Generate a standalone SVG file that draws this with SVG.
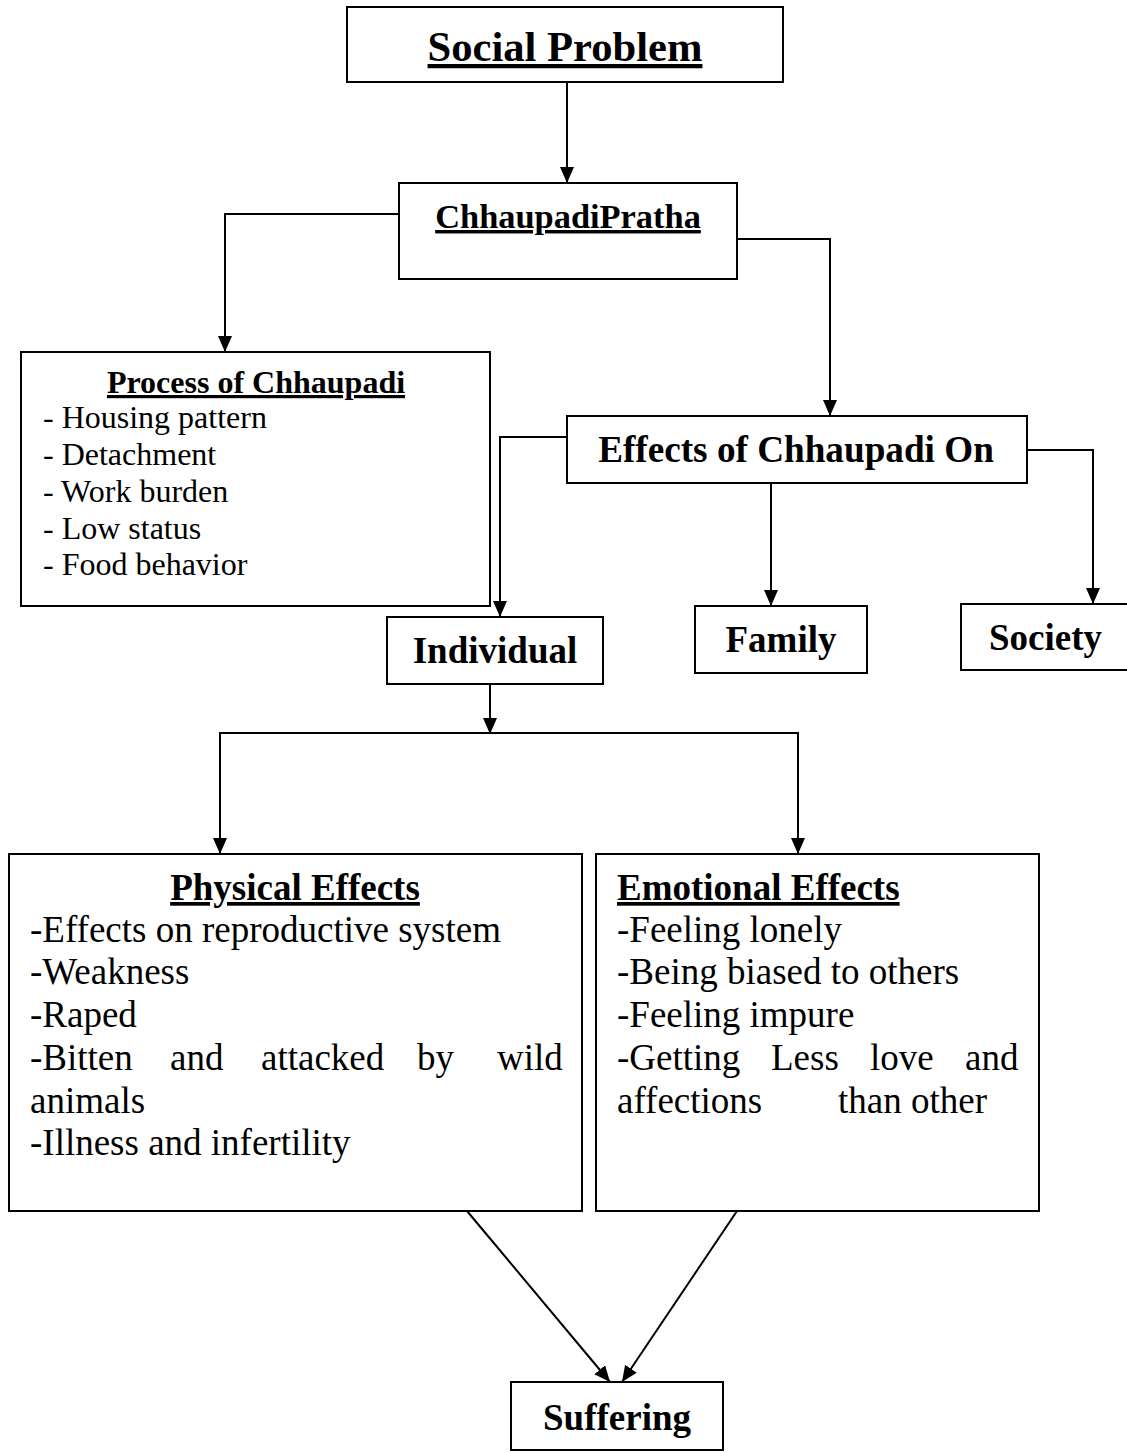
<svg xmlns="http://www.w3.org/2000/svg" width="1127" height="1453" viewBox="0 0 1127 1453">
<style>
  .box { fill: #ffffff; stroke: #000000; stroke-width: 2; }
  .ln { fill: none; stroke: #000000; stroke-width: 2; }
  .t { font-family: "Liberation Serif", "Times New Roman", serif; fill: #000000; }
  .b { font-weight: bold; }
  .u { text-decoration: underline; }
  .m { text-anchor: middle; }
</style>
<defs>
  <marker id="ah" markerUnits="userSpaceOnUse" markerWidth="18" markerHeight="16" refX="16" refY="7" orient="auto">
    <path d="M0,0 L16,7 L0,14 z" fill="#000000"/>
  </marker>
</defs>
<rect width="1127" height="1453" fill="#ffffff"/>

<g id="connectors">
  <path class="ln" d="M567,82 V183" marker-end="url(#ah)"/>
  <path class="ln" d="M399,214 H225 V352" marker-end="url(#ah)"/>
  <path class="ln" d="M737,239 H830 V416" marker-end="url(#ah)"/>
  <path class="ln" d="M567,437 H500 V617" marker-end="url(#ah)"/>
  <path class="ln" d="M771,483 V606" marker-end="url(#ah)"/>
  <path class="ln" d="M1027,450 H1093 V604" marker-end="url(#ah)"/>
  <path class="ln" d="M490,684 V734" marker-end="url(#ah)"/>
  <path class="ln" d="M220,840 V733 H798 V840"/>
  <path class="ln" d="M220,760 V854" marker-end="url(#ah)"/>
  <path class="ln" d="M798,760 V854" marker-end="url(#ah)"/>
  <path class="ln" d="M467,1211 L610,1382" marker-end="url(#ah)"/>
  <path class="ln" d="M737,1211 L622,1382" marker-end="url(#ah)"/>
</g>

<g id="social-problem">
  <rect class="box" x="347" y="7" width="436" height="75"/>
  <text class="t b u m" x="565" y="61" font-size="42.6">Social Problem</text>
</g>

<g id="chhaupadi-pratha">
  <rect class="box" x="399" y="183" width="338" height="96"/>
  <text class="t b u m" x="568" y="228" font-size="34.4">ChhaupadiPratha</text>
</g>

<g id="process">
  <rect class="box" x="21" y="352" width="469" height="254"/>
  <text class="t b u m" x="256" y="393" font-size="32">Process of Chhaupadi</text>
  <text class="t" x="43" y="428" font-size="32">- Housing pattern</text>
  <text class="t" x="43" y="465" font-size="32">- Detachment</text>
  <text class="t" x="43" y="502" font-size="32">- Work burden</text>
  <text class="t" x="43" y="539" font-size="32">- Low status</text>
  <text class="t" x="43" y="575" font-size="32">- Food behavior</text>
</g>

<g id="effects-on">
  <rect class="box" x="567" y="416" width="460" height="67"/>
  <text class="t b m" x="796" y="462" font-size="37.2">Effects of Chhaupadi On</text>
</g>

<g id="individual">
  <rect class="box" x="387" y="617" width="216" height="67"/>
  <text class="t b m" x="495" y="663" font-size="37">Individual</text>
</g>

<g id="family">
  <rect class="box" x="695" y="606" width="172" height="67"/>
  <text class="t b m" x="781" y="652" font-size="37">Family</text>
</g>

<g id="society">
  <rect class="box" x="961" y="604" width="180" height="66"/>
  <text class="t b m" x="1045.5" y="650" font-size="37">Society</text>
</g>

<g id="physical-effects">
  <rect class="box" x="9" y="854" width="573" height="357"/>
  <text class="t b u m" x="295" y="900" font-size="37">Physical Effects</text>
  <text class="t" x="30" y="942" font-size="37">-Effects on reproductive system</text>
  <text class="t" x="30" y="984" font-size="37">-Weakness</text>
  <text class="t" x="30" y="1027" font-size="37">-Raped</text>
  <text class="t" y="1070" font-size="37"><tspan x="30">-Bitten</tspan><tspan x="170">and</tspan><tspan x="261">attacked</tspan><tspan x="417">by</tspan><tspan x="497">wild</tspan></text>
  <text class="t" x="30" y="1113" font-size="37">animals</text>
  <text class="t" x="30" y="1155" font-size="37">-Illness and infertility</text>
</g>

<g id="emotional-effects">
  <rect class="box" x="596" y="854" width="443" height="357"/>
  <text class="t b u" x="617" y="900" font-size="37">Emotional Effects</text>
  <text class="t" x="617" y="942" font-size="37">-Feeling lonely</text>
  <text class="t" x="617" y="984" font-size="37">-Being biased to others</text>
  <text class="t" x="617" y="1027" font-size="37">-Feeling impure</text>
  <text class="t" y="1070" font-size="37"><tspan x="617">-Getting</tspan><tspan x="771">Less</tspan><tspan x="870">love</tspan><tspan x="965">and</tspan></text>
  <text class="t" y="1113" font-size="37"><tspan x="617">affections</tspan><tspan x="838">than other</tspan></text>
</g>

<g id="suffering">
  <rect class="box" x="511" y="1382" width="212" height="68"/>
  <text class="t b m" x="617" y="1430" font-size="37">Suffering</text>
</g>
</svg>
